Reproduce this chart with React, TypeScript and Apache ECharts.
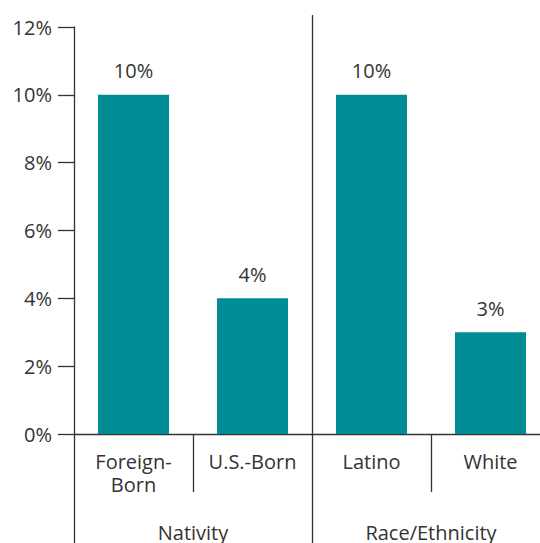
import React, { useEffect, useRef } from "react";
import * as echarts from "echarts";

const categories = ["Foreign-\nBorn", "U.S.-Born", "Latino", "White"];
const groups = ["Nativity", "Race/Ethnicity"];
const values = [10, 4, 10, 3];
const yTicks = [0, 2, 4, 6, 8, 10, 12];

const FONT = "'Open Sans', Lato, sans-serif";
const TEXT = "#333333";
const LINE = "#333333";
const BAR = "#008C95";

export default function App() {
  const ref = useRef<HTMLDivElement>(null);
  useEffect(() => {
    if (!ref.current) return;
    const chart = echarts.init(ref.current, undefined, { renderer: "svg" });
    const gridTop = 27;
    const gridBottom = 109;
    chart.setOption({
      animation: false,
      textStyle: { fontFamily: FONT },
      grid: {
        left: 74,
        top: gridTop,
        width: 476,
        bottom: gridBottom,
        containLabel: false,
        outerBoundsMode: "none",
      },
      xAxis: [
        {
          type: "category",
          data: categories,
          boundaryGap: true,
          axisLine: { show: true, lineStyle: { color: LINE, width: 1.3 } },
          axisTick: {
            show: true,
            length: 58,
            lineStyle: { color: LINE, width: 1.3 },
            interval: (i: number) => i === 1 || i === 3,
          },
          axisLabel: {
            fontFamily: FONT,
            fontSize: 20,
            color: TEXT,
            margin: 16,
            lineHeight: 23,
            verticalAlign: "top",
          },
        },
        {
          type: "category",
          data: groups,
          position: "bottom",
          offset: 0,
          gridIndex: 0,
          axisLine: { show: false },
          axisTick: { show: false },
          axisLabel: { fontFamily: FONT, fontSize: 20, color: TEXT, margin: 88 },
        },
      ],
      yAxis: {
        type: "value",
        min: yTicks[0],
        max: yTicks[yTicks.length - 1],
        interval: 2,
        axisLine: { show: true, lineStyle: { color: LINE, width: 1.3 } },
        axisTick: { show: true, length: 16, lineStyle: { color: LINE, width: 1.3 } },
        splitLine: { show: false },
        axisLabel: {
          fontFamily: FONT,
          fontSize: 20,
          color: TEXT,
          margin: 22,
          formatter: "{value}%",
        },
      },
      series: [
        {
          type: "bar",
          data: values,
          barWidth: 71,
          itemStyle: { color: BAR },
          label: {
            show: true,
            position: "top",
            distance: 14,
            fontFamily: FONT,
            fontSize: 20,
            color: TEXT,
            formatter: "{c}%",
          },
        },
      ],
    });
    const c0 = chart.convertToPixel({ xAxisIndex: 0 }, 1) as number;
    const c1 = chart.convertToPixel({ xAxisIndex: 0 }, 2) as number;
    const mid = (c0 + c1) / 2;
    const axisX = chart.convertToPixel({ xAxisIndex: 0 }, 0) as number;
    const cw = c1 - c0;
    const leftX = axisX - cw / 2;
    const y0 = chart.convertToPixel({ yAxisIndex: 0 }, 0) as number;
    const yTop = chart.convertToPixel({ yAxisIndex: 0 }, 12) as number;
    const H = 543;
    chart.setOption({
      graphic: [
        {
          type: "line",
          shape: { x1: Math.round(leftX) + 0.5, y1: y0, x2: Math.round(leftX) + 0.5, y2: H },
          style: { stroke: LINE, lineWidth: 1.3 },
        },
        {
          type: "line",
          shape: { x1: Math.round(mid) + 0.5, y1: yTop - 12, x2: Math.round(mid) + 0.5, y2: H },
          style: { stroke: LINE, lineWidth: 1.3 },
        },
      ],
    });
    return () => chart.dispose();
  }, []);
  return (
    <div
      ref={ref}
      style={{ position: "fixed", left: 0, top: 0, width: 540, height: 543, background: "#fff" }}
    />
  );
}
